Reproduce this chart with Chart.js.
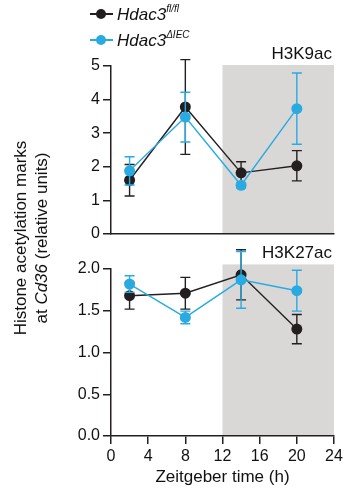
<!DOCTYPE html>
<html>
<head>
<meta charset="utf-8">
<script src="https://cdn.jsdelivr.net/npm/chart.js@4.4.1/dist/chart.umd.min.js"></script>
<style>
  body { margin: 0; background: #fff; font-family: "Liberation Sans", Arial, sans-serif; }
  #wrap { position: relative; width: 348px; height: 494px; overflow: hidden; }
  canvas { position: absolute; left: 0; top: 0; }
  .ln { position: absolute; height: 1.6px; width: 23px; }
  .dot { position: absolute; width: 10px; height: 10px; border-radius: 50%; }
  .lab { position: absolute; font-size: 17px; font-style: italic; color: #111; white-space: nowrap; }
  .lab sup { font-size: 10px; position: relative; top: -1px; }
  #ytitle { position: absolute; width: 280px; left: -108px; top: 216px; height: 44px;
            transform: rotate(-90deg); text-align: center; font-size: 17px; line-height: 21px; color: #111; }
</style>
</head>
<body>
<div id="wrap">
  <canvas id="chartK9" width="348" height="494"></canvas>
  <canvas id="chartK27" width="348" height="494"></canvas>
  <div class="ln" style="left:90px;top:13px;background:#231f20"></div>
  <div class="dot" style="left:96px;top:9px;background:#231f20"></div>
  <div class="lab" style="left:117px;top:4px"><span>Hdac3</span><sup>fl/fl</sup></div>
  <div class="ln" style="left:90px;top:39px;background:#29abe2"></div>
  <div class="dot" style="left:96px;top:35px;background:#29abe2"></div>
  <div class="lab" style="left:117px;top:30px"><span>Hdac3</span><sup>ΔIEC</sup></div>
  <div id="ytitle">Histone acetylation marks<br>at <i>Cd36</i> (relative units)</div>
</div>
<script>
// dati
var hours = [2, 8, 14, 20];
var xTicks = [0, 4, 8, 12, 16, 20, 24];
var nightStart = 12;
var nightEnd = 24;

var k9Flox = [1.60, 3.78, 1.82, 2.03];
var k9FloxErr = [0.47, 1.41, 0.33, 0.45];
var k9Ko = [1.88, 3.48, 1.45, 3.73];
var k9KoErr = [0.42, 0.74, 0.08, 1.06];

var k27Flox = [1.68, 1.71, 1.93, 1.28];
var k27FloxErr = [0.16, 0.19, 0.30, 0.175];
var k27Ko = [1.82, 1.42, 1.87, 1.74];
var k27KoErr = [0.10, 0.075, 0.34, 0.245];

var BLACK = '#231f20';
var BLUE = '#29abe2';
var FONT = 'Liberation Sans, Arial, sans-serif';

//area grigia della notte
var shadePlugin = {
  id: 'shade',
  beforeDraw: function (chart, args, opts) {
    var x = chart.scales.x, y = chart.scales.y, ctx = chart.ctx;
    var x0 = x.getPixelForValue(nightStart);
    var x1 = x.getPixelForValue(nightEnd);
    var top = y.getPixelForValue(opts.top);
    ctx.save();
    ctx.fillStyle = '#d9d8d7';
    ctx.fillRect(x0, top, x1 - x0, y.bottom - top);
    ctx.restore();
  }
};

//barre di errore
var errorPlugin = {
  id: 'errbars',
  beforeDatasetDraw: function (chart, args) {
    var ds = chart.data.datasets[args.index];
    var x = chart.scales.x, y = chart.scales.y, ctx = chart.ctx;
    ctx.save();
    ctx.strokeStyle = ds.borderColor;
    ctx.lineWidth = 1.4;
    for (var i = 0; i < ds.data.length; i++) {
      var px = x.getPixelForValue(ds.data[i].x);
      var hi = y.getPixelForValue(ds.data[i].y + ds.errors[i]);
      var lo = y.getPixelForValue(ds.data[i].y - ds.errors[i]);
      ctx.beginPath();
      ctx.moveTo(px, hi); ctx.lineTo(px, lo);
      ctx.moveTo(px - 5, hi); ctx.lineTo(px + 5, hi);
      ctx.moveTo(px - 5, lo); ctx.lineTo(px + 5, lo);
      ctx.stroke();
    }
    ctx.restore();
  }
};

//etichetta del pannello
var panelLabel = {
  id: 'panelLabel',
  afterDraw: function (chart, args, opts) {
    var ctx = chart.ctx;
    ctx.save();
    ctx.font = '17px ' + FONT;
    ctx.fillStyle = '#111';
    ctx.textAlign = 'right';
    ctx.textBaseline = 'alphabetic';
    ctx.fillText(opts.text, chart.chartArea.right - 2, chart.chartArea.top - opts.gap);
    ctx.restore();
  }
};

function points(values) {
  var out = [];
  for (var i = 0; i < hours.length; i++) {
    out.push({ x: hours[i], y: values[i] });
  }
  return out;
}

function makeChart(id, flox, floxErr, ko, koErr, cfg) {
  var ctx = document.getElementById(id).getContext('2d');
  return new Chart(ctx, {
    type: 'line',
    data: {
      datasets: [{
        label: 'Hdac3 ΔIEC',
        data: points(ko),
        errors: koErr,
        borderColor: BLUE,
        backgroundColor: BLUE,
        borderWidth: 1.4,
        pointRadius: 5.5,
        pointBorderWidth: 0,
        order: 0
      }, {
        label: 'Hdac3 fl/fl',
        data: points(flox),
        errors: floxErr,
        borderColor: BLACK,
        backgroundColor: BLACK,
        borderWidth: 1.4,
        pointRadius: 5.5,
        pointBorderWidth: 0,
        order: 1
      }]
    },
    options: {
      responsive: false,
      animation: false,
      clip: false,
      layout: { padding: cfg.padding },
      plugins: {
        legend: { display: false },
        tooltip: { enabled: false },
        shade: { top: cfg.shadeTop },
        panelLabel: { text: cfg.label, gap: cfg.labelGap }
      },
      scales: {
        x: {
          type: 'linear',
          min: 0,
          max: 24,
          afterBuildTicks: function (axis) {
            axis.ticks = xTicks.map(function (v) { return { value: v }; });
          },
          afterFit: function (axis) { axis.height = cfg.xHeight; },
          border: { display: true, color: BLACK, width: 1.5 },
          grid: { display: cfg.showX, drawOnChartArea: false, drawTicks: true, tickLength: 8, color: BLACK, lineWidth: 1.5 },
          ticks: { display: cfg.showX, color: '#111', padding: 3, font: { family: FONT, size: 16 } },
          title: {
            display: cfg.showX,
            text: 'Zeitgeber time (h)',
            color: '#111',
            padding: { top: 0, bottom: 6 },
            font: { family: FONT, size: 17 }
          }
        },
        y: {
          min: 0,
          max: cfg.yMax,
          afterFit: function (axis) { axis.width = 50; },
          border: { display: true, color: BLACK, width: 1.5 },
          grid: { display: true, drawOnChartArea: false, drawTicks: true, tickLength: 8, color: BLACK, lineWidth: 1.5 },
          ticks: {
            stepSize: cfg.step,
            color: '#111',
            padding: 3,
            font: { family: FONT, size: 16 },
            callback: function (v) { return v.toFixed(cfg.decimals); }
          }
        }
      }
    },
    plugins: [shadePlugin, errorPlugin, panelLabel]
  });
}

function init() {
  makeChart('chartK9', k9Flox, k9FloxErr, k9Ko, k9KoErr, {
    padding: { left: 61, right: 14, top: 66, bottom: 260 },
    xHeight: 0, showX: false, yMax: 5, step: 1, decimals: 0,
    shadeTop: 5.03, label: 'H3K9ac', labelGap: 7.5
  });
  makeChart('chartK27', k27Flox, k27FloxErr, k27Ko, k27KoErr, {
    padding: { left: 61, right: 14, top: 269, bottom: 0 },
    xHeight: 58, showX: true, yMax: 2, step: 0.5, decimals: 1,
    shadeTop: 2.055, label: 'H3K27ac', labelGap: 11
  });
}

init();
</script>
</body>
</html>
